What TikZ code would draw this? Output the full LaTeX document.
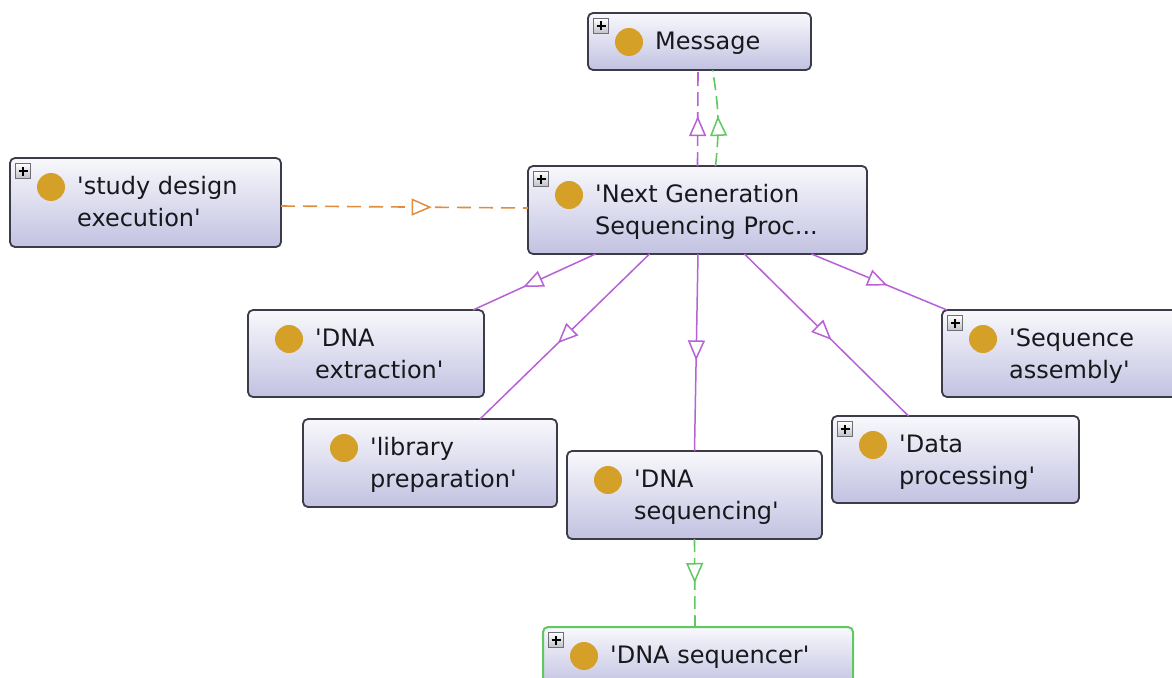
\documentclass[tikz,border=0pt]{standalone}
\usepackage{fontspec}
\setmainfont{DejaVu Sans}
\usetikzlibrary{arrows.meta,decorations.markings}

\definecolor{boxedge}{RGB}{60,60,72}
\definecolor{boxtop}{RGB}{248,248,252}
\definecolor{boxbottom}{RGB}{194,194,226}
\definecolor{classgold}{RGB}{212,160,40}
\definecolor{isapurple}{RGB}{184,96,214}
\definecolor{linkgreen}{RGB}{96,200,96}
\definecolor{linkorange}{RGB}{226,140,64}
\definecolor{plusedge}{RGB}{110,110,120}
\definecolor{textdark}{RGB}{24,24,28}

\newcommand\q{\textquotesingle}

\tikzset{
  classbox/.style={rectangle, rounded corners=5pt, draw=boxedge, line width=1.8pt,
    top color=boxtop, bottom color=boxbottom, inner sep=0pt, outer sep=0pt},
  focusbox/.style={draw=linkgreen, line width=2pt},
  classdot/.style={circle, fill=classgold, minimum size=28pt, inner sep=0pt},
  classtext/.style={anchor=north west, inner sep=0pt, align=left, text=textdark,
    font=\fontsize{24}{32}\selectfont},
  plusbox/.style={rectangle, draw=plusedge, line width=0.8pt, top color=white,
    bottom color=blue!10!black!25, minimum size=15pt, inner sep=0pt},
  plussign/.style={line width=2.2pt, black},
  midtip/.style={postaction={decorate}, decoration={markings,
    mark=at position #1 with {\arrow{Triangle[length=20pt,width=17pt,fill=white,line width=1.5pt]}}}},
  subclass/.style={draw=isapurple, line width=1.5pt},
  purpledash/.style={draw=isapurple, line width=1.6pt, dash pattern=on 14pt off 6pt},
  greendash/.style={draw=linkgreen, line width=1.6pt, dash pattern=on 13pt off 6pt},
  orangedash/.style={draw=linkorange, line width=1.6pt, dash pattern=on 14pt off 8pt},
}

% class box: name, left, top, width, height, text, extra style
\newcommand\ontoclass[7]{%
  \node[classbox, #7, minimum width=#4pt, minimum height=#5pt, anchor=north west] (#1) at (#2,#3) {};
  \node[classdot] (#1-dot) at ([xshift=41pt, yshift=-29pt]#1.north west) {};
  \node[classtext] (#1-text) at ([xshift=67pt, yshift=-18pt]#1.north west) {\rule{0pt}{18pt}#6};
}
% expand marker in the upper left corner of a class box
\newcommand\expander[1]{%
  \node[plusbox] (#1-plus) at ([xshift=13pt, yshift=-13pt]#1.north west) {};
  \draw[plussign] ([xshift=-4.5pt]#1-plus.center) -- ([xshift=4.5pt]#1-plus.center);
  \draw[plussign] ([yshift=-4.5pt]#1-plus.center) -- ([yshift=4.5pt]#1-plus.center);
}

\begin{document}
\begin{tikzpicture}[x=1pt, y=-1pt]
  \useasboundingbox[fill=white] (0,0) rectangle (1172,677);

  % classes
  \ontoclass{msg}{588}{13}{223}{57}{Message}{}
  \ontoclass{study}{10}{158}{271}{89}{\q study design\\execution\q}{}
  \ontoclass{ngs}{528}{166}{339}{88}{\q Next Generation\\Sequencing Proc...}{}
  \ontoclass{extr}{248}{310}{236}{87}{\q DNA\\extraction\q}{}
  \ontoclass{asm}{942}{310}{240}{87}{\q Sequence\\assembly\q}{}
  \ontoclass{libp}{303}{419}{254}{88}{\q library\\preparation\q}{}
  \ontoclass{dnaseq}{567}{451}{255}{88}{\q DNA\\sequencing\q}{}
  \ontoclass{datap}{832}{416}{247}{87}{\q Data\\processing\q}{}
  \ontoclass{seqr}{543}{627}{310}{60}{\q DNA sequencer\q}{focusbox}

  \expander{msg}
  \expander{study}
  \expander{ngs}
  \expander{asm}
  \expander{datap}
  \expander{seqr}

  % links up to Message
  \draw[purpledash, midtip=0.52] (ngs.north) -- ([xshift=-1.5pt]msg.south);
  \draw[greendash, midtip=0.52] ([xshift=18pt]ngs.north) to[bend right=8] ([xshift=13pt]msg.south);

  % study design execution -> NGS process
  \draw[orangedash, midtip=0.61] ([yshift=-3.5pt]study.east) -- ([yshift=2pt]ngs.west);

  % subclasses of the NGS process
  \draw[subclass, midtip=0.59] ([xshift=-102pt]ngs.south) -- ([xshift=-11pt]extr.north east);
  \draw[subclass, midtip=0.54] ([xshift=-48pt]ngs.south) -- ([xshift=50pt]libp.north);
  \draw[subclass, midtip=0.54] ([xshift=0.5pt]ngs.south) -- (dnaseq.north);
  \draw[subclass, midtip=0.53] ([xshift=47pt]ngs.south) -- ([xshift=-47pt]datap.north);
  \draw[subclass, midtip=0.56] ([xshift=114pt]ngs.south) -- ([xshift=5pt]asm.north west);

  % DNA sequencing -> DNA sequencer
  \draw[greendash, midtip=0.5] (dnaseq.south) -- ([xshift=-3pt]seqr.north);
\end{tikzpicture}
\end{document}
